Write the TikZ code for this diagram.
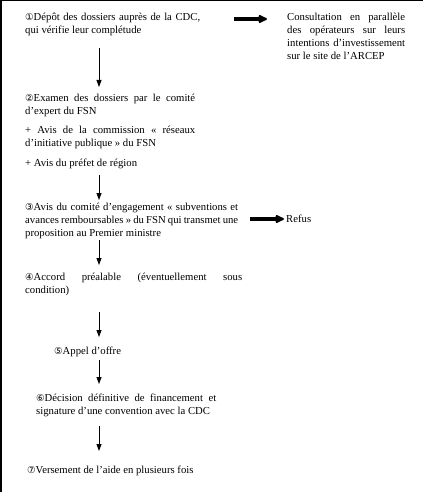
\documentclass[tikz,border=0pt]{standalone}
\usepackage{fontspec}
\setmainfont{Liberation Serif}
\newfontfamily\circfont{DejaVu Sans}
\usetikzlibrary{arrows.meta}
\newcommand\cn[1]{{\circfont\fontsize{9.5}{9.5}\selectfont #1}}
\newcommand\jl[2]{\makebox[#1][s]{#2}}
\newcommand\blk[1]{\parbox[t]{320pt}{#1}}
\begin{document}
\begin{tikzpicture}[x=1pt,y=-1pt,
  txt/.style={anchor=base west, inner sep=0pt, font=\fontsize{10.7}{13}\selectfont},
  thin/.style={line width=0.8pt, -{Triangle[length=7pt,width=5pt]}},
  thick/.style={line width=3.2pt, -{Latex[round,length=11pt,width=10pt]}}]
\useasboundingbox (0,0) rectangle (423,492);
\draw[line width=3pt] (0,492) -- (0,0) -- (423,0);

\node[txt] (b1) at (25,21) {\blk{\jl{175pt}{\cn{①}Dépôt des dossiers auprès de la CDC,}\\
qui vérifie leur complétude}};
\node[txt] (r1) at (287,21) {\blk{\jl{118pt}{Consultation en parallèle}\\
\jl{118pt}{des opérateurs sur leurs}\\
\jl{118pt}{intentions d’investissement}\\
sur le site de l’ARCEP}};
\node[txt] (b2) at (25,101.5) {\blk{\jl{170pt}{\cn{②}Examen des dossiers par le comité}\\
d’expert du FSN\\[6pt]
\jl{170pt}{+ Avis de la commission «~réseaux}\\
d’initiative publique » du FSN\\[7pt]
+ Avis du préfet de région}};
\node[txt] (b3) at (25,210.5) {\blk{\jl{213pt}{\cn{③}Avis du comité d’engagement « subventions et}\\
\jl{213pt}{avances remboursables » du FSN qui transmet une}\\
proposition au Premier ministre}};
\node[txt] (refus) at (286,222.5) {Refus};
\node[txt] (b4) at (25,280) {\blk{\jl{217pt}{\cn{④}Accord préalable (éventuellement sous}\\
condition)}};
\node[txt] (b5) at (54,354.5) {\cn{⑤}Appel d’offre};
\node[txt] (b6) at (36,401.5) {\blk{\jl{180pt}{\cn{⑥}Décision définitive de financement et}\\
signature d’une convention avec la CDC}};
\node[txt] (b7) at (27,473) {\cn{⑦}Versement de l’aide en plusieurs fois};

\coordinate (t1s) at (234,19); \coordinate (t1e) at (267,19);
\coordinate (t2s) at (250,219); \coordinate (t2e) at (284,219);
\draw[thick] (t1s) -- (t1e);
\draw[thick] (t2s) -- (t2e);

\coordinate (a1s) at (99,48);  \coordinate (a1e) at (99,87);
\coordinate (a2s) at (99,175); \coordinate (a2e) at (99,200);
\coordinate (a3s) at (99,240); \coordinate (a3e) at (99,265);
\coordinate (a4s) at (99,312); \coordinate (a4e) at (99,337);
\coordinate (a5s) at (99,360); \coordinate (a5e) at (99,384);
\coordinate (a6s) at (99,426); \coordinate (a6e) at (99,451);
\foreach \i in {1,...,6} \draw[thin] (a\i s) -- (a\i e);
\end{tikzpicture}
\end{document}
